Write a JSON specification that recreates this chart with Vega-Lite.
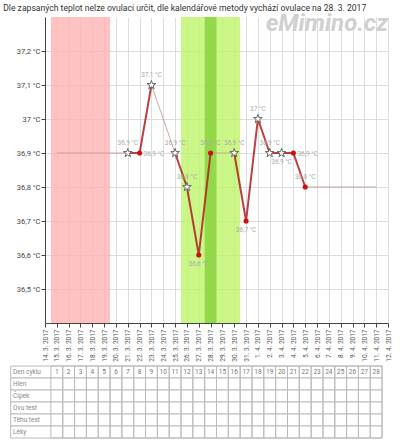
{
  "$schema": "https://vega.github.io/schema/vega-lite/v6.json",
  "padding": {"left": 3, "top": 3, "right": 8, "bottom": 1},
  "background": "white",
  "title": {
    "text": "Dle zapsaných teplot nelze ovulaci určit, dle kalendářové metody vychází ovulace na 28. 3. 2017",
    "anchor": "start",
    "fontSize": 8.6,
    "fontWeight": "normal",
    "color": "#333",
    "offset": 0,
    "dx": -7
  },
  "config": {"font": "Roboto", "view": {"stroke": null}},
  "datasets": {
    "bands": [
      {"kind": "menstruace", "start": 0.5, "end": 5.5},
      {"kind": "plodne dny", "start": 11.5, "end": 16.5},
      {"kind": "ovulace", "start": 13.5, "end": 14.5}
    ],
    "points": [
      {"day": 7, "temp": 36.9, "type": "star", "pos": "above", "label": "36,9 °C"},
      {"day": 8, "temp": 36.9, "type": "dot", "pos": "right", "label": "36,9 °C"},
      {"day": 9, "temp": 37.1, "type": "star", "pos": "above", "label": "37,1 °C"},
      {"day": 11, "temp": 36.9, "type": "star", "pos": "above", "label": "36,9 °C"},
      {"day": 12, "temp": 36.8, "type": "star", "pos": "above", "label": "36,8 °C"},
      {"day": 13, "temp": 36.6, "type": "dot", "pos": "below", "label": "36,6 °C"},
      {"day": 14, "temp": 36.9, "type": "dot", "pos": "above", "label": "36,9 °C"},
      {"day": 16, "temp": 36.9, "type": "star", "pos": "above", "label": "36,9 °C"},
      {"day": 17, "temp": 36.7, "type": "dot", "pos": "below", "label": "36,7 °C"},
      {"day": 18, "temp": 37.0, "type": "star", "pos": "above", "label": "37 °C"},
      {"day": 19, "temp": 36.9, "type": "star", "pos": "above", "label": "36,9 °C"},
      {"day": 20, "temp": 36.9, "type": "star", "pos": "below", "label": "36,9 °C"},
      {"day": 21, "temp": 36.9, "type": "dot", "pos": "right", "label": "36,9 °C"},
      {"day": 22, "temp": 36.8, "type": "dot", "pos": "above", "label": "36,8 °C"}
    ],
    "lines": [
      {"seg": "a", "style": "thin", "day": 1, "temp": 36.9},
      {"seg": "a", "style": "thin", "day": 7, "temp": 36.9},
      {"seg": "b", "style": "thick", "day": 7, "temp": 36.9},
      {"seg": "b", "style": "thick", "day": 8, "temp": 36.9},
      {"seg": "b", "style": "thick", "day": 9, "temp": 37.1},
      {"seg": "c", "style": "thin", "day": 9, "temp": 37.1},
      {"seg": "c", "style": "thin", "day": 11, "temp": 36.9},
      {"seg": "d", "style": "thick", "day": 11, "temp": 36.9},
      {"seg": "d", "style": "thick", "day": 12, "temp": 36.8},
      {"seg": "d", "style": "thick", "day": 13, "temp": 36.6},
      {"seg": "d", "style": "thick", "day": 14, "temp": 36.9},
      {"seg": "e", "style": "thin", "day": 14, "temp": 36.9},
      {"seg": "e", "style": "thin", "day": 16, "temp": 36.9},
      {"seg": "f", "style": "thick", "day": 16, "temp": 36.9},
      {"seg": "f", "style": "thick", "day": 17, "temp": 36.7},
      {"seg": "f", "style": "thick", "day": 18, "temp": 37.0},
      {"seg": "f", "style": "thick", "day": 19, "temp": 36.9},
      {"seg": "f", "style": "thick", "day": 20, "temp": 36.9},
      {"seg": "f", "style": "thick", "day": 21, "temp": 36.9},
      {"seg": "f", "style": "thick", "day": 22, "temp": 36.8},
      {"seg": "g", "style": "thin", "day": 22, "temp": 36.8},
      {"seg": "g", "style": "thin", "day": 28, "temp": 36.8}
    ],
    "watermark": [{"text": "eMimino.cz", "day": 29, "temp": 37.279}],
    "rows": [
      {"row": "Den cyklu"},
      {"row": "Hlen"},
      {"row": "Čípek"},
      {"row": "Ovu test"},
      {"row": "Těhu test"},
      {"row": "Léky"}
    ],
    "cycle": [
      {"day": 1, "from": 0.5, "to": 1.5}, {"day": 2, "from": 1.5, "to": 2.5},
      {"day": 3, "from": 2.5, "to": 3.5}, {"day": 4, "from": 3.5, "to": 4.5},
      {"day": 5, "from": 4.5, "to": 5.5}, {"day": 6, "from": 5.5, "to": 6.5},
      {"day": 7, "from": 6.5, "to": 7.5}, {"day": 8, "from": 7.5, "to": 8.5},
      {"day": 9, "from": 8.5, "to": 9.5}, {"day": 10, "from": 9.5, "to": 10.5},
      {"day": 11, "from": 10.5, "to": 11.5}, {"day": 12, "from": 11.5, "to": 12.5},
      {"day": 13, "from": 12.5, "to": 13.5}, {"day": 14, "from": 13.5, "to": 14.5},
      {"day": 15, "from": 14.5, "to": 15.5}, {"day": 16, "from": 15.5, "to": 16.5},
      {"day": 17, "from": 16.5, "to": 17.5}, {"day": 18, "from": 17.5, "to": 18.5},
      {"day": 19, "from": 18.5, "to": 19.5}, {"day": 20, "from": 19.5, "to": 20.5},
      {"day": 21, "from": 20.5, "to": 21.5}, {"day": 22, "from": 21.5, "to": 22.5},
      {"day": 23, "from": 22.5, "to": 23.5}, {"day": 24, "from": 23.5, "to": 24.5},
      {"day": 25, "from": 24.5, "to": 25.5}, {"day": 26, "from": 25.5, "to": 26.5},
      {"day": 27, "from": 26.5, "to": 27.5}, {"day": 28, "from": 27.5, "to": 28.5}
    ]
  },
  "spacing": 3,
  "resolve": {"scale": {"x": "independent", "y": "independent", "color": "independent"}},
  "vconcat": [
    {
      "width": 343,
      "height": 306,
      "layer": [
        {
          "data": {"name": "bands"},
          "mark": {"type": "rect", "opacity": 0.8},
          "encoding": {
            "x": {
              "field": "start",
              "type": "quantitative",
              "scale": {"domain": [0, 29], "nice": false, "zero": false},
              "axis": {
                "title": null,
                "tickCount": 30,
                "labelAngle": 270,
                "labelExpr": "timeFormat(datetime(2017, 2, 14 + datum.value), '%-d. %-m. %Y')",
                "labelFontSize": 6.5,
                "labelColor": "#555",
                "labelOverlap": false,
                "labelPadding": 2,
                "tickSize": 4,
                "tickColor": "#444",
                "domainColor": "#444",
                "gridColor": "#ddd"
              }
            },
            "x2": {"field": "end"},
            "color": {
              "field": "kind",
              "type": "nominal",
              "scale": {
                "domain": ["menstruace", "plodne dny", "ovulace"],
                "range": ["#ffb3b3", "#bdf56a", "#86d13a"]
              },
              "legend": null
            }
          }
        },
        {
          "data": {"name": "lines"},
          "mark": {"type": "line"},
          "encoding": {
            "x": {"field": "day", "type": "quantitative"},
            "y": {
              "field": "temp",
              "type": "quantitative",
              "scale": {"domain": [36.4, 37.3], "nice": false, "zero": false},
              "axis": {
                "title": null,
                "values": [36.5, 36.6, 36.7, 36.8, 36.9, 37.0, 37.1, 37.2],
                "labelExpr": "replace(format(datum.value, '.1~f'), '.', ',') + ' °C'",
                "labelFontSize": 7.5,
                "labelColor": "#444",
                "labelPadding": 1,
                "tickSize": 4,
                "tickColor": "#444",
                "domainColor": "#444",
                "gridColor": "#ddd"
              }
            },
            "detail": {"field": "seg"},
            "strokeWidth": {
              "field": "style",
              "type": "nominal",
              "scale": {"domain": ["thin", "thick"], "range": [1, 2]},
              "legend": null
            },
            "stroke": {
              "field": "style",
              "type": "nominal",
              "scale": {"domain": ["thin", "thick"], "range": ["#c09a92", "#b01e1e"]},
              "legend": null
            },
            "strokeOpacity": {"value": 0.85}
          }
        },
        {
          "data": {"name": "points"},
          "transform": [{"filter": "datum.pos == 'above'"}],
          "mark": {"type": "text", "dy": -10, "fontSize": 6.5, "color": "#aaa"},
          "encoding": {
            "x": {"field": "day", "type": "quantitative"},
            "y": {"field": "temp", "type": "quantitative"},
            "text": {"field": "label"}
          }
        },
        {
          "data": {"name": "points"},
          "transform": [{"filter": "datum.pos == 'below'"}],
          "mark": {"type": "text", "dy": 9, "fontSize": 6.5, "color": "#aaa"},
          "encoding": {
            "x": {"field": "day", "type": "quantitative"},
            "y": {"field": "temp", "type": "quantitative"},
            "text": {"field": "label"}
          }
        },
        {
          "data": {"name": "points"},
          "transform": [{"filter": "datum.pos == 'right'"}],
          "mark": {"type": "text", "dx": 4, "dy": 1, "align": "left", "fontSize": 6.5, "color": "#aaa"},
          "encoding": {
            "x": {"field": "day", "type": "quantitative"},
            "y": {"field": "temp", "type": "quantitative"},
            "text": {"field": "label"}
          }
        },
        {
          "data": {"name": "points"},
          "transform": [{"filter": "datum.type == 'star'"}],
          "mark": {
            "type": "point",
            "shape": "M0,-1L0.2245,-0.309L0.951,-0.309L0.363,0.118L0.588,0.809L0,0.382L-0.588,0.809L-0.363,0.118L-0.951,-0.309L-0.2245,-0.309Z",
            "filled": true,
            "fill": "white",
            "stroke": "#666",
            "strokeWidth": 1,
            "size": 85,
            "opacity": 1
          },
          "encoding": {
            "x": {"field": "day", "type": "quantitative"},
            "y": {"field": "temp", "type": "quantitative"}
          }
        },
        {
          "data": {"name": "points"},
          "transform": [{"filter": "datum.type == 'dot'"}],
          "mark": {"type": "circle", "color": "#cc1010", "size": 26, "opacity": 1},
          "encoding": {
            "x": {"field": "day", "type": "quantitative"},
            "y": {"field": "temp", "type": "quantitative"}
          }
        },
        {
          "data": {"name": "watermark"},
          "mark": {
            "type": "text",
            "align": "right",
            "baseline": "middle",
            "fontSize": 24,
            "fontWeight": "bold",
            "fontStyle": "italic",
            "color": "#d0d0d0"
          },
          "encoding": {
            "x": {"field": "day", "type": "quantitative"},
            "y": {"field": "temp", "type": "quantitative"},
            "text": {"field": "text"}
          }
        }
      ]
    },
    {
      "width": 343,
      "height": 72,
      "layer": [
        {
          "data": {"name": "rows"},
          "mark": {"type": "rect", "fill": "white", "stroke": "#bbb", "strokeWidth": 1},
          "encoding": {
            "x": {
              "datum": -2.9,
              "type": "quantitative",
              "scale": {"domain": [0, 29], "nice": false, "zero": false},
              "axis": null
            },
            "x2": {"datum": 28.5},
            "y": {
              "field": "row",
              "type": "nominal",
              "sort": null,
              "scale": {
                "domain": ["Den cyklu", "Hlen", "Čípek", "Ovu test", "Těhu test", "Léky"],
                "paddingInner": 0,
                "paddingOuter": 0
              },
              "axis": null
            }
          }
        },
        {
          "data": {"name": "cycle"},
          "mark": {"type": "rect", "fill": null, "fillOpacity": 0, "stroke": "#bbb", "strokeWidth": 1},
          "encoding": {
            "x": {"field": "from", "type": "quantitative"},
            "x2": {"field": "to"}
          }
        },
        {
          "data": {"name": "cycle"},
          "mark": {"type": "text", "fontSize": 6.5, "color": "#777"},
          "encoding": {
            "x": {"field": "day", "type": "quantitative"},
            "y": {"datum": "Den cyklu", "type": "nominal"},
            "text": {"field": "day"}
          }
        },
        {
          "data": {"name": "rows"},
          "mark": {"type": "text", "align": "left", "fontSize": 6.5, "color": "#888"},
          "encoding": {
            "x": {"datum": -2.7, "type": "quantitative"},
            "y": {"field": "row", "type": "nominal", "sort": null},
            "text": {"field": "row"}
          }
        }
      ]
    }
  ]
}
